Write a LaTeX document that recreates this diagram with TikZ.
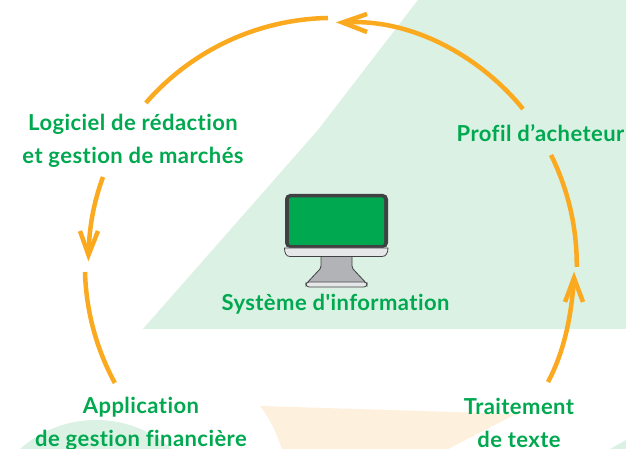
\documentclass[tikz,border=0pt]{standalone}
\usepackage{fontspec}
\newfontfamily\lblfont{Lato}[Ligatures=NoCommon,LetterSpace=2]
\usetikzlibrary{arrows.meta}
\definecolor{bggreen}{HTML}{DAF1E4}
\definecolor{bgorange}{HTML}{FDF0DC}
\definecolor{arcorange}{HTML}{FBA91F}
\definecolor{txtgreen}{HTML}{00A950}
\definecolor{frame}{HTML}{414042}
\definecolor{bezel}{HTML}{E6E7E8}
\definecolor{standgrey}{HTML}{B1B3B6}
\tikzset{
  x=1pt,y=1pt,
  lbl/.style={text=txtgreen,font=\lblfont\fontsize{22}{33}\selectfont\bfseries,align=center,inner sep=0pt},
  arcline/.style={draw=arcorange,line width=4.5pt},
  barb/.style={arcline,miter limit=10,line join=miter},
  bgg/.style={fill=bggreen,draw=none},
  bgo/.style={fill=bgorange,draw=none},
  mon/.style={draw=frame,line width=0.8pt}
}
\begin{document}
\begin{tikzpicture}
\useasboundingbox (0,0) rectangle (626,449);
\fill[white] (0,0) rectangle (626,449);
% backgrounds
\path[bgg] (418,449) -- (626,449) -- (626,120) -- (143,120) -- (318,319) -- cycle;
\begin{scope}
\clip (0,0) rectangle (626,449);
\path[bgg] (96,-85) circle[radius=114];
\path[bgg] (610,0) -- (626,9) -- (626,0) -- cycle;
\path[bgo] (260,43) -- (516,35) -- (448,0) -- (282,0) .. controls (275,20) and (268,33) .. (260,43) -- cycle;
\end{scope}
% monitor
\path[fill=frame,rounded corners=5pt] (285,201) -- (285,255) -- (388,255) -- (388,201) -- cycle;
\path[fill=txtgreen,rounded corners=2pt] (289,204) -- (289,251.5) -- (384,251.5) -- (384,204) -- cycle;
\path[mon,fill=standgrey] (321,193) -- (321,183) -- (320,180) -- (306,165) -- (367,165) -- (353,180) -- (352,183) -- (352,193) -- cycle;
\path[mon,fill=bezel,rounded corners=3pt] (306,167) -- (367,167) -- (367,162) -- (306,162) -- cycle;
\path[mon,fill=bezel] (284.5,201) -- (388,201) .. controls (388,196) and (386,192.5) .. (382,192.5) -- (290,192.5) .. controls (286,192.5) and (284.5,196) .. (284.5,201) -- cycle;
% labels
\node[lbl] (logiciel) at (133,308) {Logiciel de rédaction\\et gestion de marchés};
\node[lbl] (profil) at (540.5,316) {Profil d’acheteur};
\node[lbl] (si) at (335.5,144.5) {Système d'information};
\node[lbl] (appli) at (141,25) {Application\\de gestion financière};
\node[lbl] (traitement) at (519,26.5) {Traitement\\de texte};
% connector ends
\coordinate (a1) at (523,340);
\coordinate (a2) at (328,431);
\coordinate (a4) at (103,272);
\coordinate (a5) at (85,177);
\coordinate (a7) at (548,67);
\coordinate (a8) at (551,294);
\coordinate (t1) at (342.5,426.5);
\coordinate (t1a) at (367,435);
\coordinate (t1b) at (367,417);
\coordinate (t2) at (88.5,194);
\coordinate (t2a) at (80,218);
\coordinate (t2b) at (98,218);
\coordinate (t3) at (574,171);
\coordinate (t3a) at (565,147);
\coordinate (t3b) at (583,147);
% arcs
\draw[arcline] (a1) .. controls (480,393) and (410.5,431.5) .. (t1);
\draw[barb] (t1a) -- (t1) -- (t1b);
\draw[arcline] (a2) arc[start angle=91,end angle=139,radius=247];
\draw[arcline] (a4) .. controls (93.6,246.7) and (89,221) .. (t2);
\draw[barb] (t2a) -- (t2) -- (t2b);
\draw[arcline] (a5) arc[start angle=181.6,end angle=208.5,radius=247];
\draw[arcline] (a7) .. controls (565,99) and (571.5,135) .. (t3);
\draw[barb] (t3a) -- (t3) -- (t3b);
\draw[arcline] (a8) arc[start angle=26.4,end angle=-0.5,radius=247];
\end{tikzpicture}
\end{document}
